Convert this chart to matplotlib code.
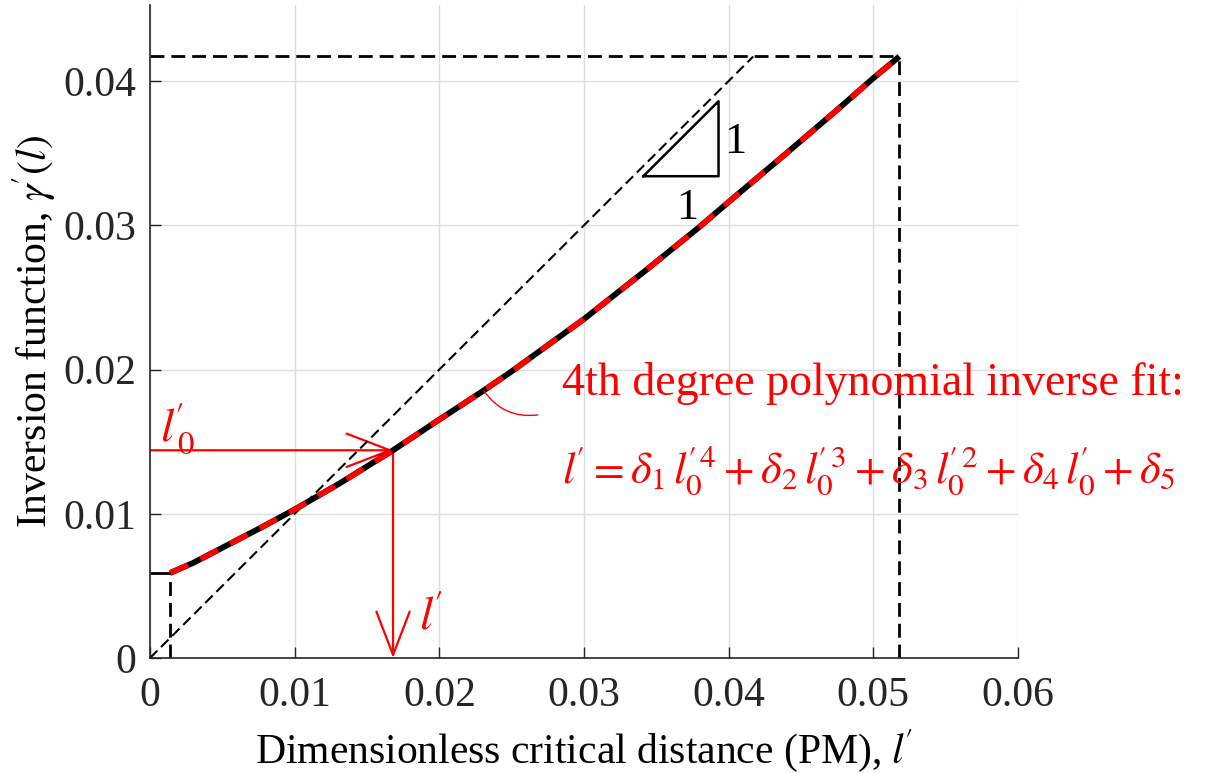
import matplotlib.pyplot as plt
from matplotlib.patches import FancyArrowPatch

plt.rcParams['font.family'] = ['Liberation Serif', 'DejaVu Serif']
plt.rcParams['mathtext.fontset'] = 'stix'

# curve: l' (x) vs gamma'(l) (y)
l_vals = [0.0014, 0.0030, 0.0053, 0.0076, 0.0100, 0.0131, 0.0168, 0.0198, 0.0230,
          0.0249, 0.0300, 0.0343, 0.0380, 0.0401, 0.0440, 0.0475, 0.0500, 0.0518]
gamma_vals = [0.0059, 0.0066, 0.0078, 0.0090, 0.0103, 0.0121, 0.0144, 0.0164, 0.0185,
              0.0198, 0.0235, 0.0269, 0.0299, 0.0317, 0.0350, 0.0380, 0.0402, 0.0417]

# reference points
l_start, g_start = 0.0014, 0.0059
l_end, g_end = 0.0518, 0.0417
l0_pick, g_pick = 0.0168, 0.0144

# slope triangle corners
tri_x = [0.0341, 0.0393, 0.0393, 0.0341]
tri_y = [0.0334, 0.0334, 0.0386, 0.0334]

x_ticks = [0, 0.01, 0.02, 0.03, 0.04, 0.05, 0.06]
x_labels = ['0', '0.01', '0.02', '0.03', '0.04', '0.05', '0.06']
y_ticks = [0, 0.01, 0.02, 0.03, 0.04]
y_labels = ['0', '0.01', '0.02', '0.03', '0.04']

fig = plt.figure(figsize=(12.15, 7.73), dpi=100)
ax = fig.add_axes([150 / 1215, 1 - 658 / 773, 868 / 1215, 653 / 773])
ax.set_xlim(0, 0.06)
ax.set_ylim(0, 0.04527)

ax.grid(True, color='#dddddd', lw=1)
ax.set_axisbelow(True)

dash = (0, (5, 2.5))
# guide lines
ax.plot([0, g_end], [0, g_end], color='k', lw=1.5, ls=dash)
ax.plot([0, l_end], [g_end, g_end], color='k', lw=2, ls=dash)
ax.plot([l_end, l_end], [0, g_end], color='k', lw=2, ls=dash)
ax.plot([l_start, l_start], [0, g_start], color='k', lw=2, ls=dash)
ax.plot([0, l_start], [g_start, g_start], color='k', lw=2)

# triangle
ax.plot(tri_x, tri_y, color='k', lw=1.8)
ax.text(0.0397, 0.0358, '1', fontsize=32, va='center', ha='left')
ax.text(0.0371, 0.0312, '1', fontsize=32, va='center', ha='center')

# fitted curve: black solid with red dashes on top
ax.plot(l_vals, gamma_vals, color='k', lw=4.2, solid_capstyle='butt')
ax.plot(l_vals, gamma_vals, color='red', lw=4.0, ls=(0, (3.5, 2.5)), dash_capstyle='butt')

# red arrows
arrow_kw = dict(arrowstyle='->,head_length=1.3,head_width=0.5', mutation_scale=24,
                color='red', lw=1.6, shrinkA=0, shrinkB=0)
ax.add_patch(FancyArrowPatch((0, g_pick), (l0_pick, g_pick), **arrow_kw))
ax.add_patch(FancyArrowPatch((l0_pick, g_pick), (l0_pick, 0), **arrow_kw))
ax.text(0.0007, 0.0150, r"$l^{\!\prime}_{\,0}$", color='red', fontsize=34, va='baseline')
ax.text(0.0186, 0.0020, r"$l^{\!\prime}$", color='red', fontsize=34, va='baseline')

# leader to the annotation
ax.annotate('', xy=(0.0231, 0.0185), xytext=(0.0268, 0.01685),
            arrowprops=dict(arrowstyle='-', color='red', lw=1, connectionstyle='arc3,rad=-0.3',
                            shrinkA=0, shrinkB=0))
ax.text(0.0285, 0.0182, '4th degree polynomial inverse fit:', color='red', fontsize=33, va='baseline')
ax.text(0.0285, 0.0121,
        r"$l^{\!\prime} = \delta_1\, l^{\!\prime\,4}_0 + \delta_2\, l^{\!\prime\,3}_0 + \delta_3\, l^{\!\prime\,2}_0"
        r" + \delta_4\, l^{\!\prime}_0 + \delta_5$",
        color='red', fontsize=32, va='baseline')

ax.set_xticks(x_ticks)
ax.set_xticklabels(x_labels)
ax.set_yticks(y_ticks)
ax.set_yticklabels(y_labels)
ax.tick_params(direction='in', length=8, width=1, labelsize=30, colors='#262626')
ax.tick_params(axis='x', pad=13)
ax.tick_params(axis='y', pad=10)
for s in ['top', 'right']:
    ax.spines[s].set_visible(False)
for s in ['left', 'bottom']:
    ax.spines[s].set_color('#262626')
    ax.spines[s].set_linewidth(1.2)

ax.set_xlabel(r"Dimensionless critical distance (PM), $l^{\!\prime}$", fontsize=30, labelpad=9)
ax.set_ylabel(r"Inversion function, $\gamma^{\!\prime}(l)$", fontsize=30, labelpad=4)

fig.savefig('out.png', dpi=100)
